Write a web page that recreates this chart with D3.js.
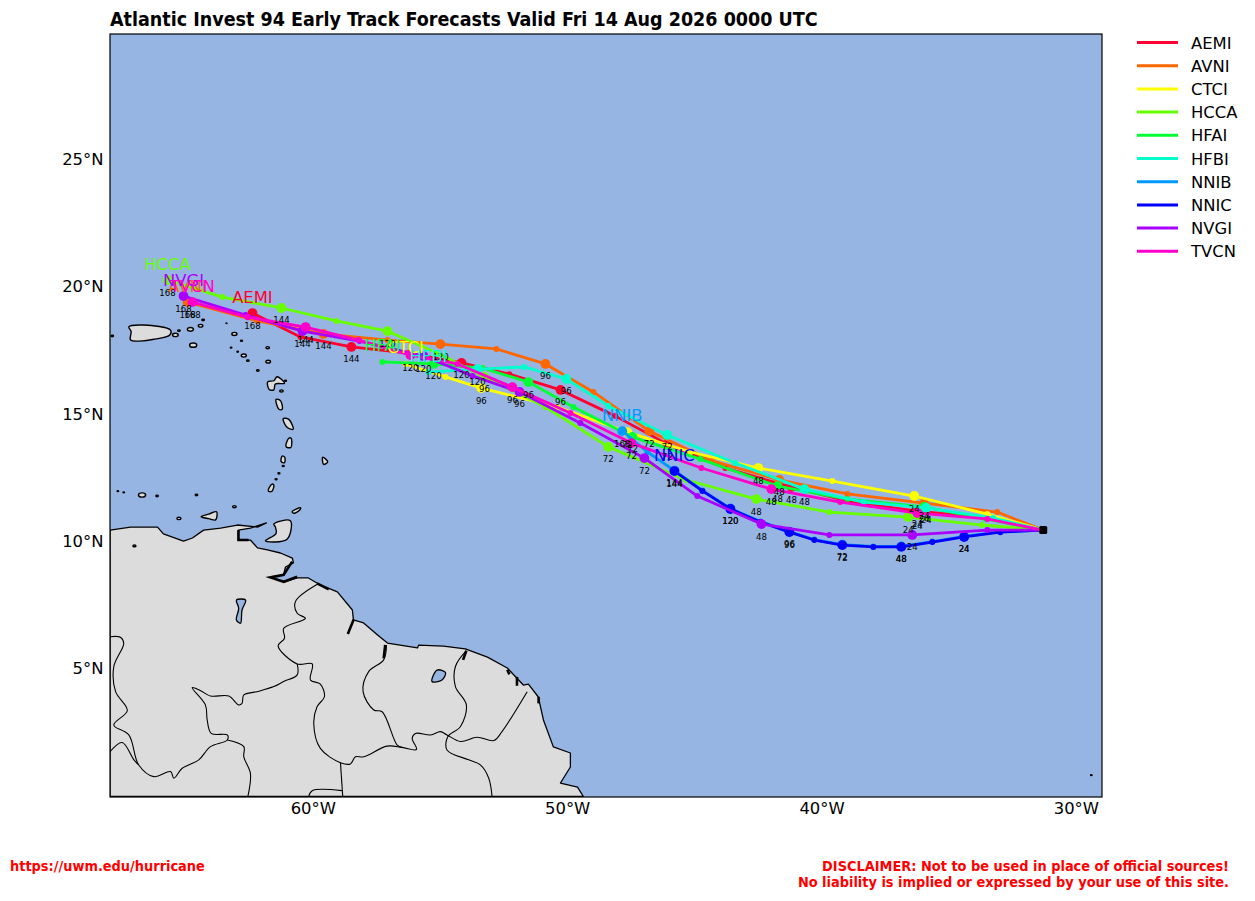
<!DOCTYPE html>
<html><head><meta charset="utf-8">
<script src="https://cdn.jsdelivr.net/npm/d3@7"></script>
<style>html,body{margin:0;padding:0;background:#fff}svg{display:block}text{font-family:"DejaVu Sans",sans-serif}</style>
</head><body><svg id="c" width="1255" height="901"></svg>
<script>
const titleText = "Atlantic Invest 94 Early Track Forecasts Valid Fri 14 Aug 2026 0000 UTC";
const lonTicks = [-60,-50,-40,-30];
const latTicks = [5,10,15,20,25];
const origin = [-31.31,10.47];
const models = ["AEMI","AVNI","CTCI","HCCA","HFAI","HFBI","NNIB","NNIC","NVGI","TVCN"];
const colors = ["#ff0033","#ff6600","#ffff00","#66ff00","#00ff33","#00ffcc","#0099ff","#0000ff","#aa00ff","#ff00cc"];
// forecast positions [lon,lat], one per 12 h from hour 12; null = no fix
const AEMI = [[-33.55,10.95],[-36.26,11.22],[-38.82,11.57],[-41.21,12.16],[-43.81,12.91],[-46.09,13.85],[-48.13,14.95],[-50.29,15.98],[-52.30,16.60],[-54.18,17.04],[-56.27,17.43],[-58.51,17.67],[-60.51,18.06],[-62.40,19.00]];
const AVNI = [[-33.12,11.18],[-35.99,11.53],[-39.01,11.89],[-41.69,12.44],[-44.32,13.19],[-46.80,14.36],[-49.00,15.90],[-50.88,17.00],[-52.81,17.59],[-55.01,17.78],[-57.09,17.94],[-59.61,18.18],[-62.20,18.69],[-64.95,19.43]];
const CTCI = [[-33.51,11.10],[-36.38,11.81],[-39.60,12.40],[-42.51,12.91],[-45.18,13.54],[-47.66,14.32],[-50.41,15.31],[-53.40,16.05],[-54.81,16.49],null,[-56.38,17.00]];
const HCCA = [[-33.71,10.67],[-36.62,10.98],[-39.72,11.18],[-42.59,11.69],[-45.34,12.44],[-48.41,13.74],[-50.88,15.31],[-53.28,16.49],[-55.13,17.43],[-57.09,18.29],[-59.10,18.69],[-61.26,19.20],[-63.58,19.63],[-65.74,20.30]];
const HFAI = [[-33.59,10.91],[-35.99,11.38],[-39.01,11.69],[-41.76,12.20],[-44.79,13.26],[-47.46,14.13],[-49.78,15.31],[-51.55,16.29],[-53.36,16.84],[-55.28,17.00],[-57.29,17.08]];
const HFBI = [[-33.28,10.95],[-35.91,11.34],[-38.38,11.57],[-40.70,12.08],[-43.42,13.11],[-46.09,14.21],[-48.41,15.35],[-50.06,16.41],[-51.71,16.88],[-53.55,16.80],[-55.48,16.68]];
const NNIB = [[-33.00,10.41],[-34.42,10.22],[-35.67,10.02],[-36.89,9.83],[-37.99,9.83],[-39.21,9.90],[-40.31,10.10],[-41.29,10.41],[-42.43,10.81],[-43.61,11.32],[-44.71,12.03],[-45.81,12.81],[-46.87,13.54],[-47.86,14.36]];
const NNIC = [[-33.00,10.39],[-34.42,10.20],[-35.67,10.00],[-36.89,9.81],[-37.99,9.81],[-39.21,9.88],[-40.31,10.08],[-41.29,10.39],[-42.43,10.79],[-43.61,11.30],[-44.71,12.01],[-45.81,12.79]];
const NVGI = [[-33.51,10.47],[-36.46,10.28],[-39.72,10.28],[-42.39,10.71],[-44.91,11.81],[-46.99,13.30],[-49.51,14.68],[-51.90,15.90],[-53.75,16.53],[-55.68,17.31],[-58.19,17.90],[-60.43,18.29],[-62.67,18.92],[-65.11,19.67]];
const TVCN = [[-33.51,10.91],[-36.26,11.14],[-39.29,11.57],[-42.00,12.08],[-44.75,12.91],[-47.50,13.89],[-49.90,15.07],[-52.18,16.09],[-54.34,17.00],[-56.19,17.35],[-58.23,17.94],[-60.31,18.45],[-62.59,18.84],[-64.76,19.43]];
const tracks = [AEMI,AVNI,CTCI,HCCA,HFAI,HFBI,NNIB,NNIC,NVGI,TVCN];

const mainland = [[-68,10.47],[-67.19,10.59],[-66.13,10.59],[-65.90,10.32],[-65.11,10.04],[-64.76,10.16],[-64.32,10.47],[-63.65,10.55],[-62.99,10.67],[-62.20,10.59],[-61.85,10.75],[-62.48,10.55],[-62.95,10.47],[-62.95,10.08],[-62.48,10.08],[-62.20,9.77],[-61.81,9.69],[-61.30,9.57],[-60.83,9.37],[-60.79,9.18],[-61.10,9.02],[-61.18,8.71],[-61.69,8.63],[-61.18,8.43],[-60.63,8.59],[-60.20,8.59],[-59.80,8.35],[-59.06,8.04],[-58.47,7.33],[-58.43,6.94],[-58.03,6.82],[-57.48,6.35],[-57.09,6.03],[-55.91,5.84],[-55.87,5.95],[-54.89,5.91],[-54.03,5.80],[-53.16,5.48],[-52.38,5.05],[-51.75,4.38],[-51.55,4.42],[-51.16,3.91],[-50.96,3.01],[-50.57,1.95],[-49.90,1.71],[-49.90,1.16],[-50.29,0.53],[-49.62,0.37],[-49.39,0],[-68,0]];
const islands = [
 [[-67.26,18.46],[-66.67,18.53],[-65.62,18.33],[-65.65,18.14],[-66.28,17.97],[-67.19,17.94],[-67.17,18.27]],
 [[-61.80,16.30],[-61.56,16.34],[-61.43,16.50],[-61.14,16.24],[-61.50,16.21],[-61.56,15.98],[-61.74,16.00]],
 [[-61.47,15.61],[-61.30,15.56],[-61.23,15.22],[-61.36,15.22]],
 [[-61.19,14.85],[-60.97,14.82],[-60.80,14.43],[-61.04,14.51]],
 [[-60.97,14.08],[-60.88,14.08],[-60.89,13.72],[-61.08,13.75]],
 [[-61.23,13.38],[-61.13,13.33],[-61.14,13.12],[-61.27,13.16]],
 [[-59.64,13.33],[-59.44,13.16],[-59.60,13.05]],
 [[-61.63,12.28],[-61.56,12.24],[-61.64,11.99],[-61.78,12.01]],
 [[-60.84,11.19],[-60.51,11.35],[-60.54,11.26],[-60.77,11.13]],
 [[-61.56,10.71],[-60.91,10.84],[-61.04,10.11],[-61.89,10.05],[-61.47,10.34],[-61.50,10.60]],
 [[-64.42,11.00],[-64.12,11.10],[-63.81,11.19],[-63.85,10.87],[-64.12,10.92]]
];
// small islets: lon, lat, radius in degrees
const islets = [[-65.43,18.14,0.11],[-65.29,18.31,0.05],[-64.84,18.36,0.12],[-64.44,18.50,0.09],[-64.34,18.73,0.05],[-64.73,17.74,0.14],[-63.11,18.18,0.1],[-62.83,17.91,0.04],[-63.24,17.64,0.03],[-62.98,17.48,0.03],[-62.74,17.33,0.1],[-62.58,17.13,0.05],[-61.80,17.64,0.07],[-61.78,17.09,0.09],[-62.19,16.74,0.05],[-61.26,15.94,0.07],[-61.10,16.34,0.04],[-61.19,12.99,0.04],[-61.36,12.70,0.04],[-61.47,12.47,0.04],[-64.60,11.85,0.05],[-63.11,11.39,0.07],[-65.29,10.93,0.08],[-66.74,11.85,0.14],[-66.15,11.81,0.05],[-67.69,12.0,0.03],[-67.46,11.95,0.03],[-63.42,18.60,0.02],[-67.91,18.10,0.05],[-29.42,0.84,0.03],[-67.04,9.85,0.06]];
const borders = [
 [[-59.83,8.35],[-60.71,7.66],[-60.64,7.20],[-60.32,7.00],[-61.17,6.61],[-61.14,6.22],[-61.39,5.92],[-60.64,5.21],[-60.05,5.21],[-60.12,4.58],[-59.73,4.42],[-59.57,3.92],[-59.86,3.53],[-59.99,2.88],[-59.73,1.89],[-58.94,1.33],[-58.55,1.28],[-58.35,1.56],[-58.02,1.56],[-57.11,1.98],[-56.52,1.93],[-55.95,1.85],[-56.12,2.29],[-55.99,2.48],[-55.40,2.42],[-55.01,2.55],[-54.75,2.42],[-54.22,2.16],[-53.57,2.33],[-52.91,2.20],[-52.59,2.55],[-51.60,4.12]],
 [[-60.64,5.21],[-60.64,4.78],[-61.17,4.52],[-61.56,4.32],[-62.22,4.12],[-62.74,3.99],[-62.81,3.66],[-62.94,3.60],[-63.33,3.95],[-64.05,3.95],[-64.44,4.16],[-64.77,4.28],[-64.25,3.60],[-64.18,3.01],[-64.02,2.48],[-63.39,2.42],[-63.39,2.22],[-64.05,1.96],[-64.51,1.44],[-65.16,1.11],[-65.49,0.72],[-65.62,0.98],[-66.28,0.78],[-66.87,1.24],[-67.26,2.42],[-67.85,2.81],[-67.32,3.38],[-67.78,4.12],[-67.85,5.11],[-67.46,6.02],[-67.59,6.26],[-68,6.28]],
 [[-68,1.76],[-67.52,2.12],[-67.06,1.44],[-66.87,1.24]],
 [[-63.39,2.22],[-62.74,1.96],[-62.74,1.56],[-62.48,0.91],[-62.58,0]],
 [[-57.13,5.95],[-57.24,5.37],[-57.83,4.91],[-58.05,4.12],[-57.63,3.40],[-57.30,3.33],[-56.71,2.02],[-56.52,1.93]],
 [[-53.99,5.73],[-54.42,5.11],[-54.42,4.32],[-53.99,3.60],[-54.22,2.75],[-54.72,2.35],[-54.75,1.83],[-53.90,1.44],[-53.44,1.24],[-53.11,0.72],[-52.98,0]],
 [[-58.94,1.33],[-58.85,0]],
 [[-58.88,0.23],[-60.05,0.23],[-60.19,0]]
];
const lakes = [
 [[-63.03,7.72],[-62.67,7.72],[-62.81,7.33],[-62.87,6.81],[-63.03,6.94],[-62.94,7.40]],
 [[-55.14,4.97],[-54.81,4.87],[-54.95,4.58],[-55.34,4.52]]
];
const estuaries = [
 [[-58.42,6.96],[-58.65,6.39]],
 [[-60.84,9.23],[-61.17,8.71],[-61.69,8.61],[-61.17,8.44],[-60.64,8.64]],
 [[-59.86,8.38],[-59.40,8.14]],
 [[-57.18,5.96],[-57.24,5.43]],
 [[-53.99,5.73],[-54.12,5.37]],
 [[-51.15,3.92],[-51.15,3.66]],
 [[-52.38,4.98],[-52.30,4.80]],
 [[-52.00,4.70],[-52.00,4.35]],
 [[-62.95,10.47],[-62.95,10.08],[-62.55,10.08]]
];

const svg = d3.select("#c");
const L=110,R=1102,T=34,B=797;
const x = d3.scaleLinear().domain([-68,-29]).range([L,R]);
const y = d3.scaleLinear().domain([0,30]).range([796.5,33.2]);
const line = d3.line().x(d=>x(d[0])).y(d=>y(d[1]));
const smoothClosed = d3.line().x(d=>x(d[0])).y(d=>y(d[1])).curve(d3.curveCatmullRomClosed.alpha(0.5));
const smooth = d3.line().x(d=>x(d[0])).y(d=>y(d[1])).curve(d3.curveCatmullRom.alpha(0.5));
const defs = svg.append("defs");
defs.append("clipPath").attr("id","pc").append("rect").attr("x",L).attr("y",T).attr("width",R-L).attr("height",B-T);
const sea="#97b5e2", land="#dcdcdc";
svg.append("rect").attr("x",L).attr("y",T).attr("width",R-L).attr("height",B-T).attr("fill",sea);
const map = svg.append("g").attr("clip-path","url(#pc)");
map.append("path").attr("d",line(mainland)+"Z").attr("fill",land).attr("stroke","#000").attr("stroke-width",1.3).attr("stroke-linejoin","round");
map.selectAll(".isl").data(islands).join("path").attr("d",d=>smoothClosed(d)).attr("fill",land).attr("stroke","#000").attr("stroke-width",1.4);
map.selectAll(".it").data(islets).join("ellipse").attr("cx",d=>x(d[0])).attr("cy",d=>y(d[1])).attr("rx",d=>x(d[2])-x(0)).attr("ry",d=>(x(d[2])-x(0))*0.6).attr("fill",land).attr("stroke","#000").attr("stroke-width",1.4);
map.selectAll(".bd").data(borders).join("path").attr("d",d=>smooth(d)).attr("fill","none").attr("stroke","#000").attr("stroke-width",1.1).attr("stroke-linejoin","round");
map.selectAll(".lk").data(lakes).join("path").attr("d",d=>smoothClosed(d)).attr("fill",sea).attr("stroke","#000").attr("stroke-width",1.3);
map.selectAll(".es").data(estuaries).join("path").attr("d",d=>line(d)).attr("fill","none").attr("stroke","#000").attr("stroke-width",2.6);

const tg = svg.append("g").attr("clip-path","url(#pc)");
tracks.forEach((t,i)=>{
  const pts = t.map((p,k)=>p?{lon:p[0],lat:p[1],h:(k+1)*12}:null).filter(Boolean);
  const all = [origin].concat(pts.map(p=>[p.lon,p.lat]));
  tg.append("path").attr("d",line(all)).attr("fill","none").attr("stroke",colors[i]).attr("stroke-width",2.8).attr("stroke-linejoin","round");
  tg.selectAll(null).data(pts).join("circle").attr("cx",p=>x(p.lon)).attr("cy",p=>y(p.lat)).attr("r",p=>p.h%24===0?4.9:3).attr("fill",colors[i]);
});
const lg = svg.append("g");
tracks.forEach((t,i)=>{
  const pts = t.map((p,k)=>p?{lon:p[0],lat:p[1],h:(k+1)*12}:null).filter(Boolean);
  lg.selectAll(null).data(pts.filter(p=>p.h%24===0)).join("text").attr("x",p=>x(p.lon)).attr("y",p=>y(p.lat)+15.5).attr("text-anchor","middle").attr("font-size",8.6).attr("fill","#000").text(p=>p.h);
  const last = pts[pts.length-1];
  lg.append("text").attr("x",x(last.lon)).attr("y",y(last.lat)-10.5).attr("text-anchor","middle").attr("font-size",16.4).attr("fill",colors[i]).text(models[i]);
});
svg.append("rect").attr("x",x(origin[0])-4).attr("y",y(origin[1])-4).attr("width",8).attr("height",8).attr("rx",1.5).attr("fill","#000");
svg.append("rect").attr("x",L).attr("y",T).attr("width",R-L).attr("height",B-T).attr("fill","none").attr("stroke","#000").attr("stroke-width",1.2);

const ax = svg.append("g").attr("transform",`translate(0,${B})`).call(d3.axisBottom(x).tickValues(lonTicks).tickSize(0).tickPadding(5.5).tickFormat(d=>Math.abs(d)+"°W"));
const ay = svg.append("g").attr("transform",`translate(${L},-1)`).call(d3.axisLeft(y).tickValues(latTicks).tickSize(0).tickPadding(6.5).tickFormat(d=>d+"°N"));
[ax,ay].forEach(a=>{a.select(".domain").remove();a.selectAll("text").attr("font-size",16.4).attr("font-family","DejaVu Sans").attr("fill","#000");});
ax.attr("transform",`translate(-0.7,${B})`);
svg.append("text").attr("x",110).attr("y",26).attr("font-size",19.5).attr("font-weight",700).attr("font-stretch","condensed").style("font-stretch","condensed").attr("fill","#000").text(titleText);
models.forEach((m,i)=>{
  const yy = 42.5+i*23.2;
  svg.append("line").attr("x1",1137).attr("x2",1178).attr("y1",yy).attr("y2",yy).attr("stroke",colors[i]).attr("stroke-width",3);
  svg.append("text").attr("x",1191).attr("y",yy+6).attr("font-size",16.4).attr("fill","#000").text(m);
});
const foot = (xx,yy,anc,s)=>svg.append("text").attr("x",xx).attr("y",yy).attr("text-anchor",anc).attr("font-size",14.4).attr("font-weight",700).style("font-stretch","condensed").attr("fill","#ff0000").text(s);
foot(10,871,"start","https://uwm.edu/hurricane");
foot(1229,871,"end","DISCLAIMER: Not to be used in place of official sources!");
foot(1229,887,"end","No liability is implied or expressed by your use of this site.");
</script></body></html>
